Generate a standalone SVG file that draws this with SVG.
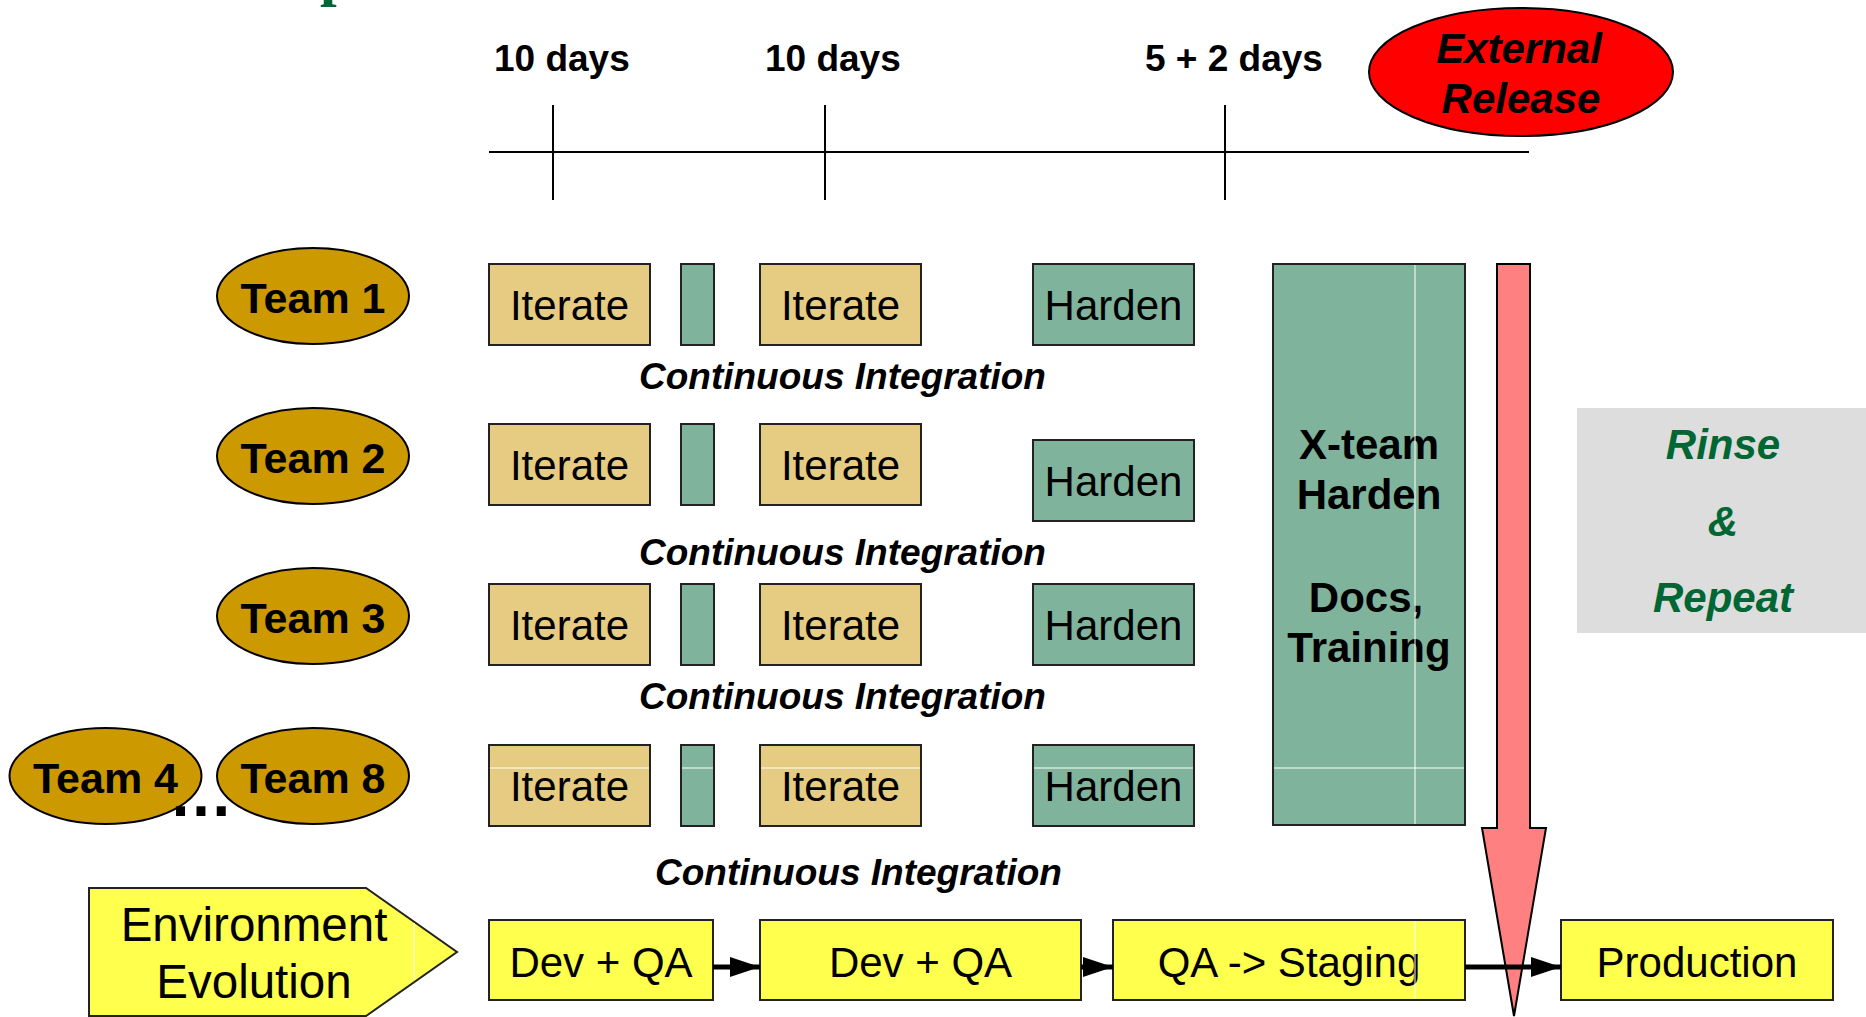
<svg xmlns="http://www.w3.org/2000/svg" width="1866" height="1017" viewBox="0 0 1866 1017">
<defs>
<style>
.t{font-family:"Liberation Sans",Arial,sans-serif;fill:#000}
.b{font-weight:bold}
.i{font-style:italic}
.tick{stroke:#000;stroke-width:2;fill:none}
.team{fill:#CC9900;stroke:#000;stroke-width:2}
.it{fill:#E5CC82;stroke:#222;stroke-width:2}
.gr{fill:#80B39B;stroke:#222;stroke-width:2}
.ye{fill:#FFFF4D;stroke:#222;stroke-width:2}
.art{stroke:#fff;stroke-width:1;fill:none}
</style>
<marker id="ah" markerWidth="6" markerHeight="4" refX="6" refY="2" orient="auto" markerUnits="strokeWidth">
<path d="M0,0 L6,2 L0,4 Z" fill="#000"/>
</marker>
</defs>
<rect width="1866" height="1017" fill="#fff"/>
<text x="320" y="-6" font-family="'Liberation Serif',serif" font-weight="bold" font-size="60" fill="#006633">p</text>

<g id="timeline">
<line class="tick" x1="489" y1="152" x2="1529" y2="152"/>
<line class="tick" x1="553" y1="105" x2="553" y2="200"/>
<line class="tick" x1="825" y1="105" x2="825" y2="200"/>
<line class="tick" x1="1225" y1="105" x2="1225" y2="200"/>
<text class="t b" x="494" y="71" font-size="37">10 days</text>
<text class="t b" x="765" y="71" font-size="37">10 days</text>
<text class="t b" x="1145" y="71" font-size="37">5 + 2 days</text>
</g>

<g id="external-release">
<ellipse cx="1521" cy="72" rx="152" ry="64" fill="#FF0000" stroke="#000" stroke-width="2"/>
<text class="t b i" x="1519" y="63" font-size="42" text-anchor="middle">External</text>
<text class="t b i" x="1521" y="113" font-size="42" text-anchor="middle">Release</text>
</g>

<g id="team1"><ellipse class="team" cx="313" cy="296" rx="96" ry="48"/><text class="t b" x="313" y="313" font-size="43" text-anchor="middle">Team 1</text></g>
<g id="team2"><ellipse class="team" cx="313" cy="456" rx="96" ry="48"/><text class="t b" x="313" y="473" font-size="43" text-anchor="middle">Team 2</text></g>
<g id="team3"><ellipse class="team" cx="313" cy="616" rx="96" ry="48"/><text class="t b" x="313" y="633" font-size="43" text-anchor="middle">Team 3</text></g>
<g id="team4"><ellipse class="team" cx="105.5" cy="776" rx="96" ry="48"/><text class="t b" x="105.5" y="793" font-size="43" text-anchor="middle">Team 4</text></g>
<g id="team8"><ellipse class="team" cx="313" cy="776" rx="96" ry="48"/><text class="t b" x="313" y="793" font-size="43" text-anchor="middle">Team 8</text></g>
<g id="ellipsis"><text class="t b" x="201" y="816" font-size="64" text-anchor="middle">…</text></g>

<g id="row1">
<rect class="it" x="489" y="264" width="161" height="81"/><text class="t" x="569.5" y="320" font-size="42" text-anchor="middle">Iterate</text>
<rect class="gr" x="681" y="264" width="33" height="81"/>
<rect class="it" x="760" y="264" width="161" height="81"/><text class="t" x="840.5" y="320" font-size="42" text-anchor="middle">Iterate</text>
<rect class="gr" x="1033" y="264" width="161" height="81"/><text class="t" x="1113.5" y="320" font-size="42" text-anchor="middle">Harden</text>
</g>
<g id="row2">
<rect class="it" x="489" y="424" width="161" height="81"/><text class="t" x="569.5" y="480" font-size="42" text-anchor="middle">Iterate</text>
<rect class="gr" x="681" y="424" width="33" height="81"/>
<rect class="it" x="760" y="424" width="161" height="81"/><text class="t" x="840.5" y="480" font-size="42" text-anchor="middle">Iterate</text>
<rect class="gr" x="1033" y="440" width="161" height="81"/><text class="t" x="1113.5" y="496" font-size="42" text-anchor="middle">Harden</text>
</g>
<g id="row3">
<rect class="it" x="489" y="584" width="161" height="81"/><text class="t" x="569.5" y="640" font-size="42" text-anchor="middle">Iterate</text>
<rect class="gr" x="681" y="584" width="33" height="81"/>
<rect class="it" x="760" y="584" width="161" height="81"/><text class="t" x="840.5" y="640" font-size="42" text-anchor="middle">Iterate</text>
<rect class="gr" x="1033" y="584" width="161" height="81"/><text class="t" x="1113.5" y="640" font-size="42" text-anchor="middle">Harden</text>
</g>
<g id="row4">
<rect class="it" x="489" y="745" width="161" height="81"/><text class="t" x="569.5" y="801" font-size="42" text-anchor="middle">Iterate</text>
<rect class="gr" x="681" y="745" width="33" height="81"/>
<rect class="it" x="760" y="745" width="161" height="81"/><text class="t" x="840.5" y="801" font-size="42" text-anchor="middle">Iterate</text>
<rect class="gr" x="1033" y="745" width="161" height="81"/><text class="t" x="1113.5" y="801" font-size="42" text-anchor="middle">Harden</text>
</g>

<g id="ci-labels">
<text class="t b i" x="639" y="389" font-size="37">Continuous Integration</text>
<text class="t b i" x="639" y="565" font-size="37">Continuous Integration</text>
<text class="t b i" x="639" y="709" font-size="37">Continuous Integration</text>
<text class="t b i" x="655" y="885" font-size="37">Continuous Integration</text>
</g>

<g id="xteam">
<rect class="gr" x="1273" y="264" width="192" height="561"/>
<text class="t b" x="1369" y="459" font-size="42" text-anchor="middle">X-team</text>
<text class="t b" x="1369" y="509" font-size="42" text-anchor="middle">Harden</text>
<text class="t b" x="1366" y="612" font-size="42" text-anchor="middle">Docs,</text>
<text class="t b" x="1369" y="662" font-size="42" text-anchor="middle">Training</text>
</g>

<g id="rinse">
<rect x="1577" y="408" width="289" height="225" fill="#DDDDDD"/>
<text class="t b i" x="1723" y="459" font-size="42" text-anchor="middle" style="fill:#006633">Rinse</text>
<text class="t b i" x="1723" y="536" font-size="42" text-anchor="middle" style="fill:#006633">&amp;</text>
<text class="t b i" x="1723" y="612" font-size="42" text-anchor="middle" style="fill:#006633">Repeat</text>
</g>

<g id="release-arrow">
<path d="M1497,264 L1530,264 L1530,828 L1546,828 L1514,1016 L1482,828 L1497,828 Z" fill="#FF8080" stroke="#000" stroke-width="2"/>
</g>

<g id="env-evolution">
<path d="M89,888 L366,888 L457,952 L366,1016 L89,1016 Z" fill="#FFFF4D" stroke="#222" stroke-width="2"/>
<text class="t" x="254" y="941" font-size="47.5" text-anchor="middle">Environment</text>
<text class="t" x="254" y="998" font-size="47.5" text-anchor="middle">Evolution</text>
</g>
<g id="devqa1"><rect class="ye" x="489" y="920" width="224" height="80"/><text class="t" x="601" y="977" font-size="42" text-anchor="middle">Dev + QA</text></g>
<g id="devqa2"><rect class="ye" x="760" y="920" width="321" height="80"/><text class="t" x="920.5" y="977" font-size="42" text-anchor="middle">Dev + QA</text></g>
<g id="staging"><rect class="ye" x="1113" y="920" width="352" height="80"/><text class="t" x="1289" y="977" font-size="42" text-anchor="middle">QA -&gt; Staging</text></g>
<g id="production"><rect class="ye" x="1561" y="920" width="272" height="80"/><text class="t" x="1697" y="977" font-size="42" text-anchor="middle">Production</text></g>

<g id="connectors">
<line x1="713" y1="967" x2="760" y2="967" stroke="#000" stroke-width="5" marker-end="url(#ah)"/>
<line x1="1081" y1="967" x2="1113" y2="967" stroke="#000" stroke-width="5" marker-end="url(#ah)"/>
<line x1="1465" y1="967" x2="1561" y2="967" stroke="#000" stroke-width="5" marker-end="url(#ah)"/>
</g>

<g id="artifacts">
<line class="art" x1="490" y1="768" x2="649" y2="768"/>
<line class="art" x1="682" y1="768" x2="713" y2="768"/>
<line class="art" x1="761" y1="768" x2="920" y2="768"/>
<line class="art" x1="1034" y1="768" x2="1193" y2="768"/>
<line class="art" x1="1274" y1="768" x2="1464" y2="768"/>
<line class="art" x1="1415" y1="265" x2="1415" y2="824"/>
<line class="art" x1="1415" y1="921" x2="1415" y2="999"/>
<line class="art" x1="414" y1="923" x2="414" y2="980"/>
</g>
</svg>
